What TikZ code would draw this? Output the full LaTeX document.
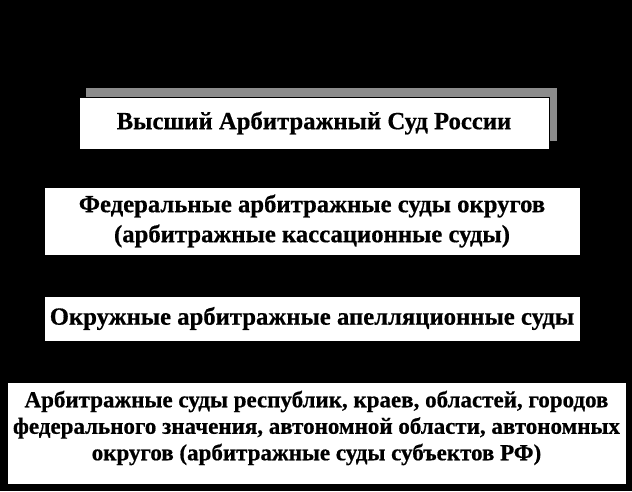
\documentclass[tikz,border=0pt]{standalone}
\usepackage{fontspec}
\setmainfont{Liberation Serif}[BoldFeatures={FakeBold=0.6}]
\begin{document}
\begin{tikzpicture}[x=1pt,y=-1pt,
  boxshape/.style={draw=black, line width=0.8pt, fill=white, inner sep=0pt},
  box/.style={boxshape, align=center, text=black,
    font=\bfseries\fontsize{24.7}{30}\selectfont},
  txt/.style={inner sep=0pt, align=center, text=black,
    font=\bfseries\fontsize{23}{26.5}\selectfont}]
\fill[black] (0,0) rectangle (632,491);
\useasboundingbox (0,0) rectangle (632,491);
% shadow of top box
\fill[gray!90] (86,88) rectangle (557,141);
\node[box, minimum width=470pt, minimum height=52pt] (vas) at (314,123)
  {\raisebox{2pt}{Высший Арбитражный Суд России}};
\node[box, minimum width=536pt, minimum height=68pt] (fas) at (312,221)
  {Федеральные арбитражные суды округов\\(арбитражные кассационные суды)};
\node[box, minimum width=536pt, minimum height=45pt] (oas) at (312,318.5)
  {Окружные арбитражные апелляционные суды};
\node[boxshape, minimum width=619pt, minimum height=102pt] (asub) at (316.5,433) {};
\node[txt] (asubtext) at ([yshift=5pt]asub.center)
  {Арбитражные суды республик, краев, областей, городов\\федерального значения, автономной области, автономных\\округов (арбитражные суды субъектов РФ)};
\end{tikzpicture}
\end{document}
